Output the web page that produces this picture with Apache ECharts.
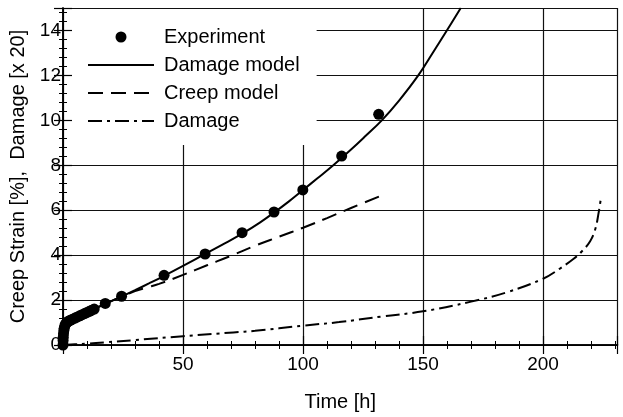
<!DOCTYPE html>
<html>
<head>
<meta charset="utf-8">
<script src="https://cdn.jsdelivr.net/npm/echarts@6/dist/echarts.min.js"></script>
<style>
html,body{margin:0;padding:0;background:#fff;}
#chart{width:623px;height:417px;}
</style>
</head>
<body>
<div id="chart"></div>
<script>
// ---- data ----
const expX = [0, 0.05, 0.1, 0.2, 0.35, 0.5, 0.8, 1.1, 1.5, 2, 2.5, 3, 4, 5, 6, 7, 8, 9, 10, 11, 12, 13, 17.6, 24.4, 42.1, 59.2, 74.6, 87.9, 99.9, 116.1, 131.5];
const expY = [0, 0.2, 0.35, 0.5, 0.65, 0.75, 0.87, 0.94, 1.0, 1.04, 1.07, 1.1, 1.15, 1.2, 1.25, 1.3, 1.35, 1.4, 1.45, 1.5, 1.55, 1.6, 1.85, 2.17, 3.1, 4.05, 5.0, 5.92, 6.9, 8.41, 10.27];

const dmgModelX = [0, 0.1, 0.3, 0.6, 1, 1.5, 2.5, 4, 7, 10, 13, 17.6, 24.4, 30, 36, 42, 50, 59, 67, 75, 82, 88, 94, 100, 106, 112.6, 120, 126, 132.8, 140, 148, 154, 159.9, 165.7];
const dmgModelY = [0, 0.35, 0.6, 0.8, 0.92, 1.0, 1.08, 1.16, 1.3, 1.45, 1.6, 1.83, 2.16, 2.44, 2.75, 3.07, 3.52, 4.04, 4.5, 4.98, 5.45, 5.9, 6.38, 6.9, 7.42, 8.0, 8.7, 9.3, 10.0, 10.88, 12.0, 13.0, 14.0, 15.0];

const creepModelX = [0, 0.1, 0.3, 0.6, 1, 1.5, 2.5, 4, 7, 10, 13, 17.6, 24.4, 30, 35, 40, 50, 60, 70, 80, 90, 100, 110, 120, 132];
const creepModelY = [0, 0.35, 0.6, 0.8, 0.92, 1.0, 1.08, 1.16, 1.3, 1.45, 1.6, 1.83, 2.15, 2.4, 2.56, 2.72, 3.12, 3.55, 3.97, 4.42, 4.82, 5.22, 5.65, 6.1, 6.62];

const damageX = [0, 5, 10, 17.5, 30, 50, 71, 80, 100, 115, 133, 150, 170, 185, 200, 207, 212.6, 216, 219.6, 221.7, 223, 224.2];
const damageY = [0, 0.03, 0.06, 0.12, 0.22, 0.39, 0.56, 0.63, 0.86, 1.02, 1.27, 1.5, 1.93, 2.35, 2.95, 3.4, 3.83, 4.15, 4.62, 5.14, 5.8, 6.62];

const seriesNames = ['Experiment', 'Damage model', 'Creep model', 'Damage'];
const xTitle = 'Time [h]';
const yTitle = 'Creep Strain [%],  Damage [x 20]';

const pairs = (xs, ys) => xs.map((x, i) => [x, ys[i]]);

const FONT = "'Liberation Sans', Arial, Helvetica, sans-serif";
const INK = '#000';
const XMIN = 0, XMAX = 231, YMIN = 0, YMAX = 15;

const tickAxisCommon = {
  type: 'value',
  axisLine: { show: true, lineStyle: { color: INK, width: 1.5 } },
  axisTick: { show: true, inside: true, length: 9, lineStyle: { color: INK, width: 1.2 } },
  minorTick: { show: true, splitNumber: 5, length: 4, lineStyle: { color: INK, width: 1 } },
  splitLine: { show: false },
  z: 10
};

const hiddenSymbol = { color: 'rgba(0,0,0,0)', opacity: 0, borderWidth: 0 };

const chart = echarts.init(document.getElementById('chart'), null, { renderer: 'canvas' });
chart.setOption({
  animation: false,
  backgroundColor: '#fff',
  textStyle: { fontFamily: FONT, color: INK },
  grid: { left: 63, right: 5.5, top: 8, bottom: 71, containLabel: false },
  legend: {
    orient: 'vertical',
    left: 65, top: 9,
    padding: [18, 17, 14, 22],
    backgroundColor: '#fff',
    itemWidth: 66, itemHeight: 11, itemGap: 8,
    textStyle: { fontSize: 20, color: INK, fontFamily: FONT, padding: [0, 0, 0, 5] },
    data: [
      { name: seriesNames[0] },
      { name: seriesNames[1], itemStyle: hiddenSymbol },
      { name: seriesNames[2], itemStyle: hiddenSymbol },
      { name: seriesNames[3], itemStyle: hiddenSymbol }
    ],
    z: 4
  },
  xAxis: [
    Object.assign({}, tickAxisCommon, {
      position: 'bottom', min: XMIN, max: XMAX, interval: 50,
      name: xTitle, nameLocation: 'middle', nameGap: 47,
      nameTextStyle: { fontSize: 20, color: INK, fontFamily: FONT },
      axisLabel: { show: true, fontSize: 19, color: INK, margin: 10, showMinLabel: false, showMaxLabel: false, fontFamily: FONT }
    }),
    Object.assign({}, tickAxisCommon, {
      position: 'top', min: XMIN, max: XMAX, interval: 50,
      axisLabel: { show: false }
    }),
    {
      type: 'value', min: XMIN, max: XMAX, interval: 50, z: 0,
      axisLine: { show: false }, axisTick: { show: false }, axisLabel: { show: false },
      splitLine: { show: true, lineStyle: { color: '#111', width: 1.2 } }
    }
  ],
  yAxis: [
    Object.assign({}, tickAxisCommon, {
      position: 'left', min: YMIN, max: YMAX, interval: 2,
      name: yTitle, nameLocation: 'middle', nameGap: 29, nameRotate: 90,
      nameTextStyle: { fontSize: 20, color: INK, fontFamily: FONT },
      axisLabel: { show: true, fontSize: 19, color: INK, margin: 2, showMaxLabel: false, fontFamily: FONT }
    }),
    Object.assign({}, tickAxisCommon, {
      position: 'right', min: YMIN, max: YMAX, interval: 2,
      axisLabel: { show: false }
    }),
    {
      type: 'value', min: YMIN, max: YMAX, interval: 2, z: 0,
      axisLine: { show: false }, axisTick: { show: false }, axisLabel: { show: false },
      splitLine: { show: true, lineStyle: { color: '#111', width: 1.2 } }
    }
  ],
  series: [
    {
      name: seriesNames[0], type: 'scatter', xAxisIndex: 0, yAxisIndex: 0,
      symbol: 'circle', symbolSize: 11,
      itemStyle: { color: INK, opacity: 1 },
      data: pairs(expX, expY), z: 3
    },
    {
      name: seriesNames[1], type: 'line', xAxisIndex: 0, yAxisIndex: 0,
      symbol: 'none', smooth: 0.4,
      lineStyle: { color: INK, width: 2 }, itemStyle: { color: INK },
      data: pairs(dmgModelX, dmgModelY)
    },
    {
      name: seriesNames[2], type: 'line', xAxisIndex: 0, yAxisIndex: 0,
      symbol: 'none', smooth: 0.4,
      lineStyle: { color: INK, width: 2, type: [15, 8] }, itemStyle: { color: INK },
      data: pairs(creepModelX, creepModelY)
    },
    {
      name: seriesNames[3], type: 'line', xAxisIndex: 0, yAxisIndex: 0,
      symbol: 'none', smooth: 0.4,
      lineStyle: { color: INK, width: 2, type: [14, 5, 3, 5] }, itemStyle: { color: INK },
      data: pairs(damageX, damageY)
    }
  ]
});
</script>
</body>
</html>
